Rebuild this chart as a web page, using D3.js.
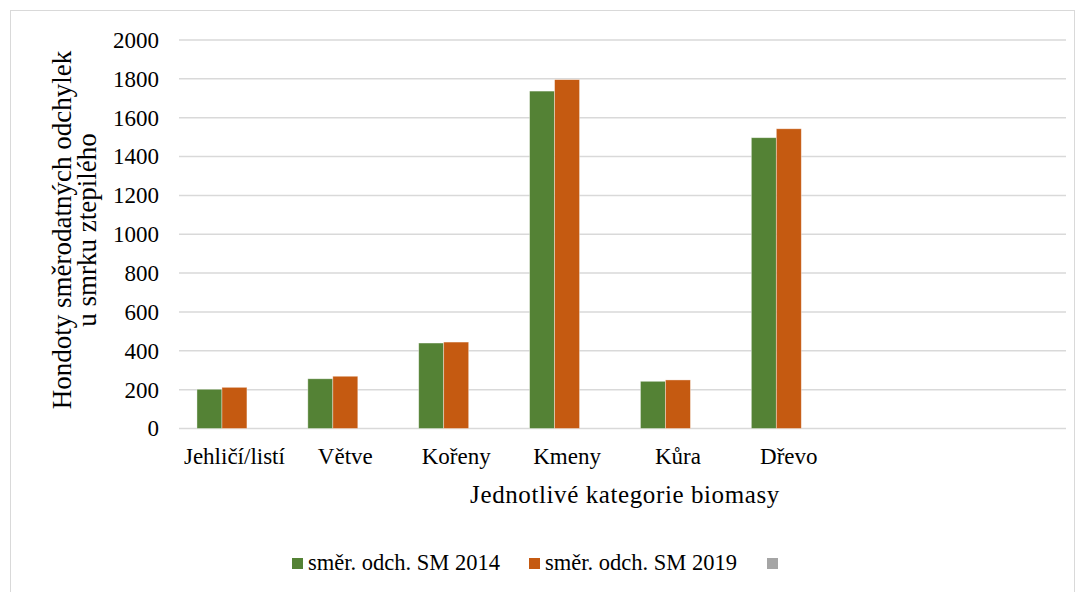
<!DOCTYPE html>
<meta charset="utf-8">
<style>
body { margin: 0; background: #fff; }
text { font-family: "Liberation Serif", "Times New Roman", serif; fill: #000; }
</style>
<body>
<script src="https://cdn.jsdelivr.net/npm/d3@7"></script>
<script>

var categories = ["Jehličí/listí", "Větve", "Kořeny", "Kmeny", "Kůra", "Dřevo", "", ""];
var series = ["směr. odch. SM 2014", "směr. odch. SM 2019", ""];
var values2014 = [202, 256, 440, 1737, 243, 1497, null, null];
var values2019 = [212, 269, 445, 1796, 250, 1543, null, null];
var valuesEmpty = [null, null, null, null, null, null, null, null];
var yTicks = [0, 200, 400, 600, 800, 1000, 1200, 1400, 1600, 1800, 2000];
var colors = ["#548235", "#c55a11", "#a5a5a5"];

var width = 1084, height = 592;
var plotLeft = 179, plotRight = 1066, plotTop = 40, plotBottom = 428.5;

var svg = d3.select("body").append("svg")
    .attr("width", width)
    .attr("height", height);

svg.append("rect")
    .attr("x", 10.5).attr("y", 10.5)
    .attr("width", 1064).attr("height", 600)
    .attr("fill", "#fff").attr("stroke", "#d9d9d9");

var x = d3.scaleBand()
    .domain(d3.range(categories.length))
    .range([plotLeft, plotRight])
    .paddingInner(0.324)
    .paddingOuter(0.162);

var xs = d3.scaleBand()
    .domain(d3.range(series.length))
    .range([0, x.bandwidth()]);

var y = d3.scaleLinear()
    .domain([0, 2000])
    .range([plotBottom, plotTop]);

// grid
svg.append("g").selectAll("line")
    .data(yTicks)
  .enter().append("line")
    .attr("x1", plotLeft).attr("x2", plotRight)
    .attr("y1", function(d) { return y(d); })
    .attr("y2", function(d) { return y(d); })
    .attr("stroke", "#d9d9d9")
    .attr("stroke-width", 1.5);

// y tick labels
var yAxis = svg.append("g")
    .attr("transform", "translate(" + (plotLeft - 20) + ",0)")
    .call(d3.axisLeft(y).tickValues(yTicks).tickFormat(d3.format("d")).tickSize(0).tickPadding(0));
yAxis.select(".domain").remove();
yAxis.selectAll("text")
    .style("font-size", "23px")
    .style("font-family", "Liberation Serif");

// bars
var allSeries = [values2014, values2019, valuesEmpty];
allSeries.forEach(function(vals, s) {
  svg.append("g").selectAll("rect")
      .data(vals.map(function(v, i) { return {i: i, v: v}; }).filter(function(d) { return d.v != null; }))
    .enter().append("rect")
      .attr("x", function(d) { return x(d.i) + xs(s); })
      .attr("y", function(d) { return y(d.v); })
      .attr("width", xs.bandwidth())
      .attr("height", function(d) { return y(0) - y(d.v); })
      .attr("fill", colors[s])
      .attr("stroke", "#fff")
      .attr("stroke-opacity", 0.5)
      .attr("stroke-width", 0.75);
});

// x labels
svg.append("g").selectAll("text")
    .data(categories)
  .enter().append("text")
    .attr("x", function(d, i) { return x(i) + x.bandwidth() / 2; })
    .attr("y", 464)
    .attr("text-anchor", "middle")
    .style("font-size", "23px")
    .text(function(d) { return d; });

// axis titles
svg.append("text")
    .attr("x", 625)
    .attr("y", 503)
    .attr("text-anchor", "middle")
    .style("font-size", "25px")
    .style("letter-spacing", "0.6px")
    .text("Jednotlivé kategorie biomasy");

var yt = svg.append("text")
    .attr("transform", "translate(71,230) rotate(-90)")
    .attr("text-anchor", "middle")
    .style("font-size", "27px");
yt.append("tspan").attr("x", 0).attr("dy", 0).text("Hondoty směrodatných odchylek");
yt.append("tspan").attr("x", 0).attr("dy", 25).text("u smrku ztepilého");

// legend
var legendX = [292, 529, 767];
var lg = svg.append("g").selectAll("g")
    .data(series)
  .enter().append("g")
    .attr("transform", function(d, i) { return "translate(" + legendX[i] + ",558)"; });
lg.append("rect")
    .attr("width", 11).attr("height", 11)
    .attr("fill", function(d, i) { return colors[i]; });
lg.append("text")
    .attr("x", 16).attr("y", 12)
    .style("font-size", "22.5px")
    .text(function(d) { return d; });

</script>
